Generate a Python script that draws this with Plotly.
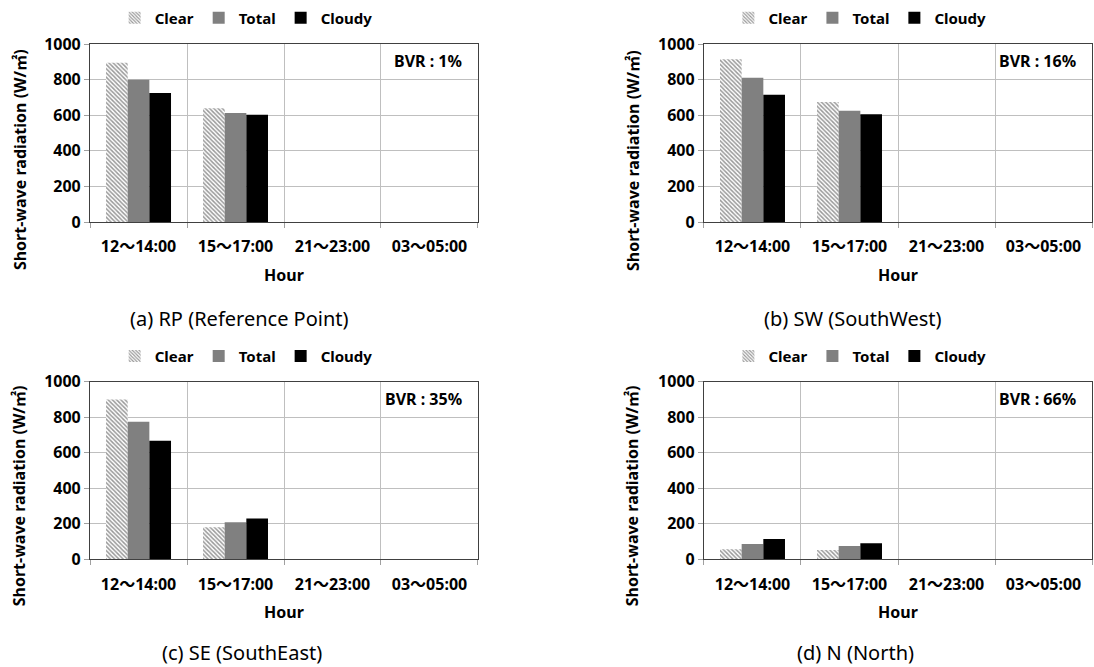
import plotly.graph_objects as go

hours = ["12～14:00", "15～17:00", "21～23:00", "03～05:00"]
series_names = ["Clear", "Total", "Cloudy"]

rp_clear = [895, 640, 0, 0]
rp_total = [800, 612, 0, 0]
rp_cloudy = [725, 603, 0, 0]

sw_clear = [915, 675, 0, 0]
sw_total = [810, 625, 0, 0]
sw_cloudy = [715, 605, 0, 0]

se_clear = [900, 180, 0, 0]
se_total = [775, 208, 0, 0]
se_cloudy = [668, 230, 0, 0]

n_clear = [56, 52, 0, 0]
n_total = [86, 75, 0, 0]
n_cloudy = [114, 90, 0, 0]

bvr_labels = ["BVR : 1%", "BVR : 16%", "BVR : 35%", "BVR : 66%"]
captions = ["(a) RP (Reference Point)", "(b) SW (SouthWest)", "(c) SE (SouthEast)", "(d) N (North)"]
y_title = "Short-wave radiation (W/㎡)"
x_title = "Hour"

panels = [
    (rp_clear, rp_total, rp_cloudy),
    (sw_clear, sw_total, sw_cloudy),
    (se_clear, se_total, se_cloudy),
    (n_clear, n_total, n_cloudy),
]

FONT = "Noto Sans, Noto Sans CJK KR"
xdom = [[0.0823, 0.4369], [0.6435, 0.9982], [0.0823, 0.4369], [0.6435, 0.9982]]
ydom = [[0.667, 0.934], [0.667, 0.934], [0.1615, 0.4277], [0.1615, 0.4277]]
leg_x = [0.225, 0.786, 0.225, 0.786]
leg_y = [0.973, 0.973, 0.466, 0.466]
cap_x = [0.219, 0.780, 0.221, 0.782]
cap_y = [0.523, 0.523, 0.021, 0.021]
yt_x = [0.0183, 0.5786, 0.0174, 0.5777]
yt_y = [0.760, 0.760, 0.256, 0.256]

fig = go.Figure()
layout = {}
annotations = []

for i, (clear, total, cloudy) in enumerate(panels):
    k = "" if i == 0 else str(i + 1)
    leg = "legend" + k
    xa = "x" + k
    ya = "y" + k
    styles = [
        dict(color="white", pattern=dict(shape="\\", fgcolor="#333333", bgcolor="white", size=3, solidity=0.5), line=dict(width=0)),
        dict(color="#808080", line=dict(width=0)),
        dict(color="#000000", line=dict(width=0)),
    ]
    for name, vals, st in zip(series_names, (clear, total, cloudy), styles):
        fig.add_trace(go.Bar(x=hours, y=vals, name=name, marker=st,
                             xaxis=xa, yaxis=ya, legend=leg))
    layout["xaxis" + k] = dict(
        domain=xdom[i], anchor=ya, type="category", tickson="boundaries",
        showgrid=True, gridcolor="#bfbfbf", gridwidth=1,
        ticks="outside", ticklen=5, tickcolor="#a0a0a0",
        showline=True, linecolor="#404040", linewidth=1.2, mirror=True,
        automargin=False, ticklabelstandoff=10,
        tickfont=dict(family=FONT, size=16, color="black", weight="bold"),
        title=dict(text="<b>" + x_title + "</b>", font=dict(family=FONT, size=16, color="black"), standoff=13),
    )
    layout["yaxis" + k] = dict(
        domain=ydom[i], anchor=xa, range=[0, 1000], dtick=200,
        showgrid=True, gridcolor="#bfbfbf", gridwidth=1,
        ticks="outside", ticklen=5, tickcolor="#a0a0a0",
        showline=True, linecolor="#404040", linewidth=1.2, mirror=True,
        zeroline=False, automargin=False,
        tickfont=dict(family=FONT, size=16, color="black", weight="bold"),
    )
    layout[leg] = dict(
        orientation="h", x=leg_x[i], xanchor="center", y=leg_y[i], yanchor="middle",
        font=dict(family=FONT, size=15, color="black", weight="bold"),
        bgcolor="rgba(0,0,0,0)", itemwidth=30, tracegroupgap=0,
    )
    annotations.append(dict(text="<b>" + y_title + "</b>", xref="paper", yref="paper",
                            x=yt_x[i], y=yt_y[i], xanchor="center", yanchor="middle", textangle=-90,
                            showarrow=False, font=dict(family=FONT, size=16, color="black")))
    annotations.append(dict(text="<b>" + bvr_labels[i] + "</b>", xref=xa + " domain", yref=ya + " domain",
                            x=0.965, y=0.904, xanchor="right", yanchor="middle", showarrow=False,
                            font=dict(family=FONT, size=16, color="black")))
    annotations.append(dict(text=captions[i], xref="paper", yref="paper",
                            x=cap_x[i], y=cap_y[i], xanchor="center", yanchor="middle", showarrow=False,
                            font=dict(family=FONT, size=20, color="black")))

fig.update_layout(
    width=1094, height=667, margin=dict(l=0, r=0, t=0, b=0),
    paper_bgcolor="white", plot_bgcolor="white",
    barmode="group", bargap=0.33, bargroupgap=0,
    annotations=annotations, **layout,
)
fig.write_html("out.html", config={"displayModeBar": False},
               post_script="document.body.style.margin='0';document.body.style.overflow='hidden';")
